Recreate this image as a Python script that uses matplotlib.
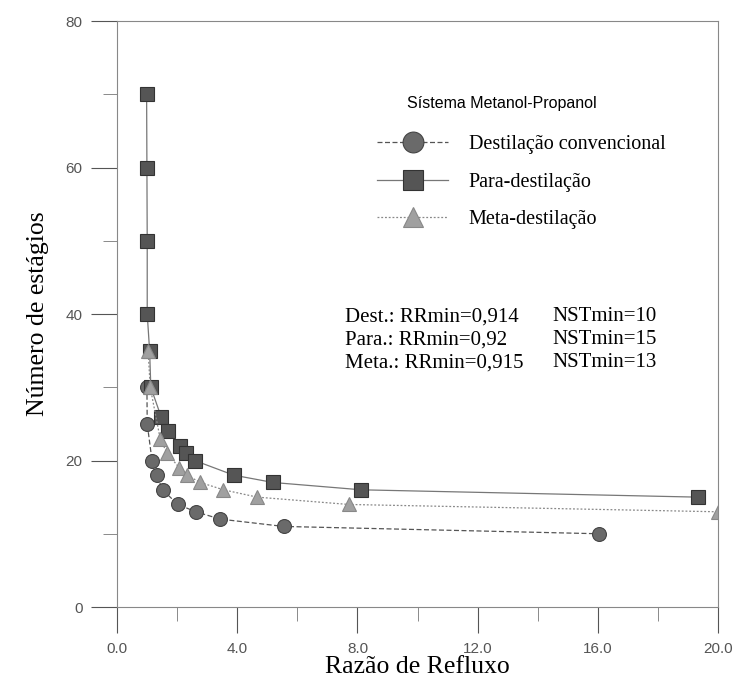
import matplotlib
matplotlib.use('Agg')
import matplotlib.pyplot as plt
from matplotlib.ticker import MultipleLocator

# Destilação convencional (circles)
dest_rr = [0.99, 1.0, 1.16, 1.32, 1.51, 2.02, 2.62, 3.43, 5.54, 16.04]
dest_n = [30, 25, 20, 18, 16, 14, 13, 12, 11, 10]

# Para-destilação (squares)
para_rr = [0.98, 0.99, 1.0, 1.0, 1.08, 1.12, 1.46, 1.69, 2.08, 2.3, 2.58, 3.88, 5.19, 8.13, 19.33]
para_n = [70, 60, 50, 40, 35, 30, 26, 24, 22, 21, 20, 18, 17, 16, 15]

# Meta-destilação (triangles)
meta_rr = [1.03, 1.1, 1.43, 1.66, 2.07, 2.32, 2.77, 3.54, 4.66, 7.71, 20.0]
meta_n = [35, 30, 23, 21, 19, 18, 17, 16, 15, 14, 13]

xticks = [0, 4, 8, 12, 16, 20]
xtick_labels = ['0.0', '4.0', '8.0', '12.0', '16.0', '20.0']
yticks = [0, 20, 40, 60, 80]

notes = [('Dest.: RRmin=0,914', 'NSTmin=10'),
         ('Para.: RRmin=0,92', 'NSTmin=15'),
         ('Meta.: RRmin=0,915', 'NSTmin=13')]

fig = plt.figure(figsize=(7.37, 6.89), dpi=100)
ax = fig.add_axes([0.159, 0.119, 0.815, 0.8505])

serif = 'Liberation Serif'
sans = 'Liberation Sans'

l1, = ax.plot(dest_rr, dest_n, color='#555555', lw=0.9, ls=(0, (4, 2)),
              marker='o', ms=10, mfc='#6a6a6a', mec='#444444', mew=0.8,
              label='Destilação convencional')
l2, = ax.plot(para_rr, para_n, color='#777777', lw=0.9, ls='-',
              marker='s', ms=10, mfc='#555555', mec='#333333', mew=0.8,
              label='Para-destilação')
l3, = ax.plot(meta_rr, meta_n, color='#888888', lw=0.9, ls=(0, (1.5, 1.5)),
              marker='^', ms=10, mfc='#a0a0a0', mec='#888888', mew=0.8,
              label='Meta-destilação')

ax.set_xlim(0, 20)
ax.set_ylim(0, 80)
ax.set_xticks(xticks)
ax.set_xticklabels(xtick_labels)
ax.set_yticks(yticks)
ax.xaxis.set_minor_locator(MultipleLocator(2))
ax.yaxis.set_minor_locator(MultipleLocator(10))
ax.tick_params(which='major', direction='out', length=19, width=0.8,
               color='#555555', labelsize=11, labelcolor='#555555', pad=6)
ax.tick_params(which='minor', direction='out', length=10, width=0.6,
               color='#777777')
for lab in ax.get_xticklabels() + ax.get_yticklabels():
    lab.set_fontfamily(sans)
for s in ax.spines.values():
    s.set_color('#888888')
    s.set_linewidth(0.8)

ax.set_xlabel('Razão de Refluxo', fontfamily=serif, fontsize=18.5, labelpad=0)
ax.set_ylabel('Número de estágios', fontfamily=serif, fontsize=18.5, labelpad=12)

ax.text(0.483, 0.86, 'Sístema Metanol-Propanol', transform=ax.transAxes,
        fontfamily=sans, fontsize=11.5, va='center')
ax.legend(handles=[l1, l2, l3], loc='upper left',
          bbox_to_anchor=(0.433, 0.805), frameon=False,
          borderaxespad=0, borderpad=0,
          prop={'family': serif, 'size': 14.5}, markerscale=1.5,
          handlelength=3.5, handletextpad=1.05, labelspacing=0.9)

for i, (a, b) in enumerate(notes):
    y = 0.495 - i * 0.039
    ax.text(0.38, y, a, transform=ax.transAxes, fontfamily=serif, fontsize=15,
            va='center')
    ax.text(0.725, y, b, transform=ax.transAxes, fontfamily=serif, fontsize=15,
            va='center')

fig.savefig('out.png', dpi=100)
